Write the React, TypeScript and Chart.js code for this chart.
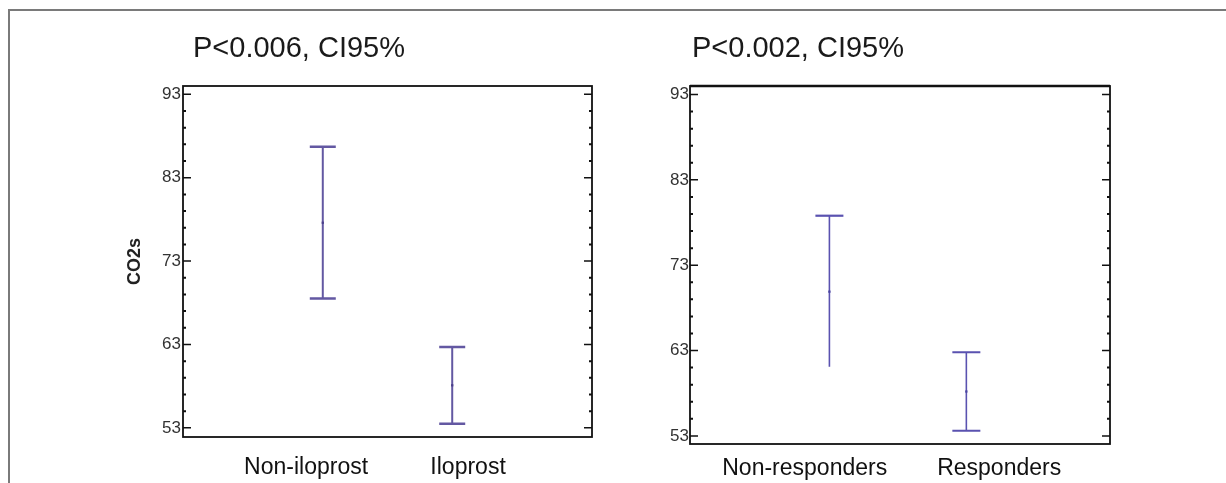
import React, { useEffect, useRef } from 'react';
import { Chart, registerables } from 'chart.js';

Chart.register(...registerables);

// ---------- data ----------
const leftTitle = 'P<0.006, CI95%';
const leftCategories = ['Non-iloprost', 'Iloprost'];
const leftMeans = [77.6, 58.1];
const leftLower = [68.5, 53.5];
const leftUpper = [86.7, 62.7];
const leftYAxisTitle = 'CO2s';

const rightTitle = 'P<0.002, CI95%';
const rightCategories = ['Non-responders', 'Responders'];
const rightMeans = [69.9, 58.2];
const rightLower = [61.1, 53.6];
const rightUpper = [78.8, 62.8];

const yMajorTicks = [53, 63, 73, 83, 93];
const yMinorTicks = [55, 57, 59, 61, 65, 67, 69, 71, 75, 77, 79, 81, 85, 87, 89, 91];

const FONT = '"Liberation Sans", Arial, Helvetica, sans-serif';

// ---------- plugin: CI bars, frame, inner ticks ----------
const ciPlugin = {
  id: 'ciPlugin',
  beforeDatasetsDraw(chart: any) {
    const ctx = chart.ctx;
    const y = chart.scales.y;
    const xd = chart.scales.xd;
    ctx.save();
    chart.data.datasets.forEach((ds: any) => {
      ds.data.forEach((pt: any, i: number) => {
        const px = xd.getPixelForValue(pt.x);
        const yt = y.getPixelForValue(ds.ciUpper[i]);
        const yb = y.getPixelForValue(ds.ciLower[i]);
        ctx.strokeStyle = ds.ciColor;
        ctx.lineCap = 'butt';
        ctx.lineWidth = ds.ciLineWidth;
        ctx.beginPath();
        ctx.moveTo(px, yt);
        ctx.lineTo(px, yb);
        ctx.stroke();
        ctx.lineWidth = ds.ciCapThickness;
        const h = ds.ciCapHalf;
        ctx.beginPath();
        ctx.moveTo(px - h, yt);
        ctx.lineTo(px + h, yt);
        if (ds.ciLowerCaps[i]) {
          ctx.moveTo(px - h, yb);
          ctx.lineTo(px + h, yb);
        }
        ctx.stroke();
      });
    });
    ctx.restore();
  },
  afterDraw(chart: any, _args: any, opts: any) {
    const ctx = chart.ctx;
    const { left, right, top, bottom } = chart.chartArea;
    const y = chart.scales.y;
    ctx.save();
    ctx.strokeStyle = '#111';
    ctx.lineWidth = opts.frameWidth || 1.5;
    ctx.strokeRect(left, top, right - left, bottom - top);
    if (opts.topWidth) {
      ctx.lineWidth = opts.topWidth;
      ctx.beginPath();
      ctx.moveTo(left, top);
      ctx.lineTo(right, top);
      ctx.stroke();
    }
    const drawTick = (v: number, len: number, w: number) => {
      const py = y.getPixelForValue(v);
      ctx.lineWidth = w;
      ctx.beginPath();
      ctx.moveTo(left, py);
      ctx.lineTo(left + len, py);
      ctx.moveTo(right, py);
      ctx.lineTo(right - len, py);
      ctx.stroke();
    };
    yMajorTicks.forEach((v) => drawTick(v, 8, 1.5));
    yMinorTicks.forEach((v) => drawTick(v, 3, 2));
    ctx.restore();
  },
};

type PanelCfg = {
  categories: string[];
  means: number[];
  lower: number[];
  upper: number[];
  lowerCaps: boolean[];
  color: string;
  meanColor: string;
  lineWidth: number;
  capThickness: number;
  capHalf: number;
  xDataRange: [number, number];
  xLabelRange: [number, number];
  yRange: [number, number];
  padding: { left: number; right: number; top: number; bottom: number };
  yAxisWidth: number;
  xAxisHeight: number;
  labelPadding: number;
  tickPadding: number;
  yTitle?: string;
  frameWidth: number;
  topWidth?: number;
};

function makeConfig(p: PanelCfg): any {
  return {
    type: 'scatter',
    data: {
      datasets: [
        {
          data: p.means.map((m, i) => ({ x: i + 1, y: m })),
          xAxisID: 'xd',
          yAxisID: 'y',
          pointRadius: 1.6,
          pointStyle: 'rect',
          pointBackgroundColor: p.meanColor,
          pointBorderWidth: 0,
          ciLower: p.lower,
          ciUpper: p.upper,
          ciLowerCaps: p.lowerCaps,
          ciColor: p.color,
          ciLineWidth: p.lineWidth,
          ciCapThickness: p.capThickness,
          ciCapHalf: p.capHalf,
        },
      ],
    },
    options: {
      animation: false,
      responsive: false,
      devicePixelRatio: 1,
      events: [],
      layout: { padding: p.padding },
      plugins: {
        legend: { display: false },
        tooltip: { enabled: false },
        title: { display: false },
        ciPlugin: { frameWidth: p.frameWidth, topWidth: p.topWidth },
      },
      scales: {
        x: {
          type: 'linear',
          position: 'bottom',
          min: p.xLabelRange[0],
          max: p.xLabelRange[1],
          grid: { display: false, drawTicks: false },
          border: { display: false },
          afterBuildTicks: (s: any) => {
            s.ticks = p.categories.map((_, i) => ({ value: i + 1 }));
          },
          afterFit: (s: any) => {
            s.height = p.xAxisHeight;
          },
          ticks: {
            autoSkip: false,
            maxRotation: 0,
            minRotation: 0,
            padding: p.labelPadding,
            color: '#111',
            font: { family: FONT, size: 23 },
            callback: (_v: any, i: number) => p.categories[i],
          },
        },
        xd: {
          type: 'linear',
          display: false,
          min: p.xDataRange[0],
          max: p.xDataRange[1],
        },
        y: {
          type: 'linear',
          position: 'left',
          min: p.yRange[0],
          max: p.yRange[1],
          grid: { display: false, drawTicks: false },
          border: { display: false },
          afterBuildTicks: (s: any) => {
            s.ticks = yMajorTicks.map((v) => ({ value: v }));
          },
          afterFit: (s: any) => {
            s.width = p.yAxisWidth;
          },
          ticks: {
            padding: p.tickPadding,
            color: '#333',
            font: { family: FONT, size: 17 },
          },
          title: p.yTitle
            ? {
                display: true,
                text: p.yTitle,
                color: '#222',
                font: { family: FONT, size: 18, weight: 'bold' },
                padding: { top: 4, bottom: 0 },
              }
            : { display: false },
        },
      },
    },
    plugins: [ciPlugin],
  };
}

function Panel({ cfg, left }: { cfg: PanelCfg; left: number }) {
  const ref = useRef<HTMLCanvasElement | null>(null);
  useEffect(() => {
    if (!ref.current) return;
    const chart = new Chart(ref.current, makeConfig(cfg));
    return () => chart.destroy();
  }, []);
  return (
    <canvas
      ref={ref}
      width={613}
      height={483}
      style={{ position: 'absolute', left, top: 0, width: 613, height: 483 }}
    />
  );
}

const leftCfg: PanelCfg = {
  categories: leftCategories,
  means: leftMeans,
  lower: leftLower,
  upper: leftUpper,
  lowerCaps: [true, true],
  color: '#6358a2',
  meanColor: '#4a3f8a',
  lineWidth: 2,
  capThickness: 2.5,
  capHalf: 13,
  xDataRange: [-0.08, 3.08],
  xLabelRange: [0.24, 2.765],
  yRange: [51.9, 94.0],
  padding: { left: 120, right: 21, top: 86, bottom: 0 },
  yAxisWidth: 63,
  xAxisHeight: 46,
  labelPadding: 17,
  tickPadding: 2,
  yTitle: leftYAxisTitle,
  frameWidth: 1.8,
};

const rightCfg: PanelCfg = {
  categories: rightCategories,
  means: rightMeans,
  lower: rightLower,
  upper: rightUpper,
  lowerCaps: [false, true],
  color: '#5a52b0',
  meanColor: '#4a44a0',
  lineWidth: 1.6,
  capThickness: 2.2,
  capHalf: 14,
  xDataRange: [-0.018, 3.049],
  xLabelRange: [0.41, 2.57],
  yRange: [52.05, 94.0],
  padding: { left: 0, right: 116, top: 86, bottom: 0 },
  yAxisWidth: 77,
  xAxisHeight: 39,
  labelPadding: 11,
  tickPadding: 1,
  frameWidth: 1.8,
  topWidth: 2.6,
};

export default function App() {
  return (
    <div
      style={{
        position: 'absolute',
        left: 0,
        top: 0,
        width: 1226,
        height: 483,
        overflow: 'hidden',
        background: '#fff',
      }}
    >
      <div
        style={{
          position: 'absolute',
          left: 8,
          top: 9,
          width: 1230,
          height: 500,
          borderTop: '2px solid #7a7a7a',
          borderLeft: '2px solid #7a7a7a',
        }}
      />
      <Panel cfg={leftCfg} left={0} />
      <Panel cfg={rightCfg} left={613} />
      <div
        style={{
          position: 'absolute',
          left: 193,
          top: 31,
          fontFamily: FONT,
          fontSize: 29,
          lineHeight: '32px',
          color: '#1a1a1a',
          whiteSpace: 'nowrap',
        }}
      >
        {leftTitle}
      </div>
      <div
        style={{
          position: 'absolute',
          left: 692,
          top: 31,
          fontFamily: FONT,
          fontSize: 29,
          lineHeight: '32px',
          color: '#1a1a1a',
          whiteSpace: 'nowrap',
        }}
      >
        {rightTitle}
      </div>
    </div>
  );
}
